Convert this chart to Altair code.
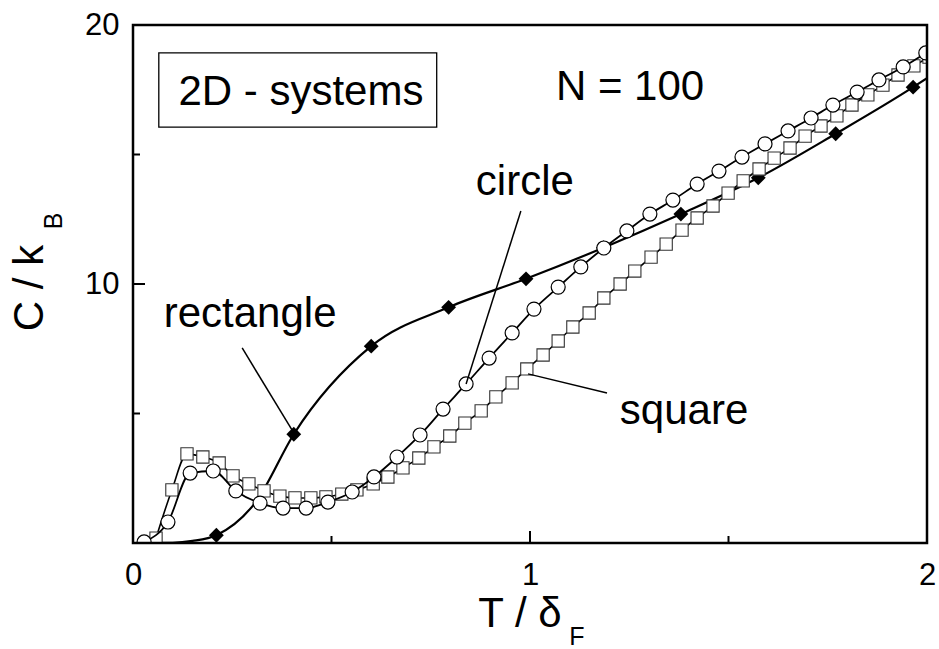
import altair as alt
import pandas as pd

FONT = "Liberation Sans"

# --- heat capacity data, N = 100, 2D systems ---
# rectangle (filled diamonds)
rect_T = [0.21, 0.405, 0.60, 0.795, 0.99, 1.185, 1.38, 1.575, 1.77, 1.965]
rect_C = [0.3, 4.2, 7.6, 9.1, 10.2, 11.4, 12.7, 14.1, 15.8, 17.6]
# smooth curve drawn through the rectangle points
rect_curve_T = [0.0, 0.10, 0.15, 0.21, 0.31, 0.405, 0.60, 0.795, 0.99,
                1.185, 1.38, 1.575, 1.77, 1.965, 2.0]
rect_curve_C = [0.0, 0.01, 0.08, 0.3, 1.6, 4.2, 7.6, 9.1, 10.2,
                11.4, 12.7, 14.1, 15.8, 17.6, 17.95]

# circle (open circles)
circ_T = [0.028, 0.088, 0.144, 0.202, 0.259, 0.320, 0.378, 0.436, 0.491, 0.552,
          0.607, 0.665, 0.723, 0.781, 0.839, 0.897, 0.955, 1.010, 1.071, 1.128,
          1.186, 1.244, 1.302, 1.360, 1.421, 1.476, 1.534, 1.592, 1.650, 1.708,
          1.763, 1.824, 1.879, 1.940, 1.997]
circ_C = [0.04, 0.81, 2.70, 2.78, 2.01, 1.54, 1.35, 1.35, 1.58, 1.97,
          2.55, 3.32, 4.17, 5.17, 6.14, 7.14, 8.11, 9.03, 9.88, 10.66,
          11.39, 12.05, 12.70, 13.24, 13.86, 14.36, 14.90, 15.41, 15.91, 16.41,
          16.91, 17.41, 17.88, 18.38, 18.92]

# square (open squares)
sq_T = [0.058, 0.098, 0.136, 0.176, 0.217, 0.252, 0.292, 0.330, 0.370, 0.408,
        0.448, 0.486, 0.526, 0.564, 0.605, 0.642, 0.680, 0.720, 0.758, 0.798,
        0.836, 0.877, 0.914, 0.955, 0.992, 1.033, 1.071, 1.108, 1.149, 1.186,
        1.227, 1.264, 1.305, 1.343, 1.383, 1.421, 1.461, 1.499, 1.537, 1.577,
        1.615, 1.655, 1.693, 1.733, 1.773, 1.811, 1.851, 1.889, 1.927, 1.967,
        2.005]
sq_C = [0.19, 2.05, 3.44, 3.32, 3.09, 2.59, 2.28, 2.01, 1.81, 1.74,
        1.74, 1.78, 1.89, 2.05, 2.28, 2.55, 2.90, 3.28, 3.71, 4.13,
        4.63, 5.10, 5.64, 6.18, 6.72, 7.26, 7.80, 8.34, 8.88, 9.46,
        10.00, 10.50, 11.04, 11.54, 12.08, 12.55, 13.01, 13.51, 13.98, 14.44,
        14.86, 15.25, 15.71, 16.10, 16.49, 16.91, 17.30, 17.68, 18.07, 18.42,
        18.76]

# axis ticks (drawn inside the frame) and tick labels
x_major = [0, 1, 2]
x_minor = [0.5, 1.5]
y_major = [0, 10, 20]
y_minor = [5, 15]
x_labels = [0, 1, 2]
y_labels = [10, 20]

# in-plot labels and leader lines
label_text = ["rectangle", "circle", "square", "N = 100", "2D - systems"]
label_T = [0.295, 0.987, 1.388, 1.252, 0.423]
label_C = [8.34, 13.44, 4.59, 17.10, 16.91]

lead_T = [0.275, 0.977, 0.995]
lead_C = [7.53, 12.82, 6.53]
lead_T2 = [0.405, 0.839, 1.194]
lead_C2 = [4.25, 6.14, 5.79]

W, H = 794, 518
X_MAX, Y_MAX = 2.0, 20.0
MAJOR_PX, MINOR_PX = 12, 7

xs = alt.Scale(domain=[0, X_MAX], nice=False, zero=False)
ys = alt.Scale(domain=[0, Y_MAX], nice=False, zero=False)

x_axis = alt.Axis(values=x_labels, ticks=False, domain=False, grid=False,
                  labelFontSize=31, labelPadding=17, labelFont=FONT,
                  labelColor="black", labelFlush=False, labelOverlap=False,
                  labelExpr="datum.value", title=None)
y_axis = alt.Axis(values=y_labels, ticks=False, domain=False, grid=False,
                  labelFontSize=31, labelPadding=14, labelFont=FONT,
                  labelColor="black", labelFlush=False, labelOverlap=False,
                  labelExpr="datum.value", title=None)

X = alt.X("T:Q", scale=xs, axis=x_axis)
Y = alt.Y("C:Q", scale=ys, axis=y_axis)

rect_df = pd.DataFrame({"T": rect_T, "C": rect_C})
rect_curve_df = pd.DataFrame({"T": rect_curve_T, "C": rect_curve_C})
circ_df = pd.DataFrame({"T": circ_T, "C": circ_C})
sq_df = pd.DataFrame({"T": sq_T, "C": sq_C})

# inside ticks, lengths converted from pixels to data units
dy_major = MAJOR_PX * Y_MAX / H
dy_minor = MINOR_PX * Y_MAX / H
dx_major = MAJOR_PX * X_MAX / W
dx_minor = MINOR_PX * X_MAX / W

xt_df = pd.DataFrame({
    "T": x_major + x_minor,
    "C": [0.0] * (len(x_major) + len(x_minor)),
    "C2": [dy_major] * len(x_major) + [dy_minor] * len(x_minor),
})
yt_df = pd.DataFrame({
    "C": y_major + y_minor,
    "T": [0.0] * (len(y_major) + len(y_minor)),
    "T2": [dx_major] * len(y_major) + [dx_minor] * len(y_minor),
})

xticks = alt.Chart(xt_df).mark_rule(color="black", strokeWidth=2).encode(
    x=X, y=Y, y2="C2:Q")
yticks = alt.Chart(yt_df).mark_rule(color="black", strokeWidth=2).encode(
    x=X, x2="T2:Q", y=Y)

# plot frame
frame = alt.Chart(pd.DataFrame({"T": [0.0], "T2": [X_MAX],
                                "C": [0.0], "C2": [Y_MAX]})).mark_rect(
    fill="transparent", stroke="black", strokeWidth=2.5).encode(
    x=X, x2="T2:Q", y=Y, y2="C2:Q")

# framed title box
box = alt.Chart(pd.DataFrame({"T": [0.065], "T2": [0.765],
                              "C": [18.92], "C2": [16.06]})).mark_rect(
    fill="white", stroke="black", strokeWidth=1.3).encode(
    x=X, x2="T2:Q", y=Y, y2="C2:Q")

rect_line = alt.Chart(rect_curve_df).mark_line(
    color="black", strokeWidth=2.2, interpolate="monotone", clip=True).encode(
    x=X, y=Y, order="T:Q")
rect_pts = alt.Chart(rect_df).mark_point(
    shape="diamond", filled=True, color="black", size=220, opacity=1,
    clip=True).encode(x=X, y=Y)

sq_line = alt.Chart(sq_df).mark_line(
    color="black", strokeWidth=1.6, interpolate="monotone", clip=True).encode(
    x=X, y=Y, order="T:Q")
sq_pts = alt.Chart(sq_df).mark_point(
    shape="square", filled=True, fill="white", stroke="#333333",
    strokeWidth=1.1, size=150, opacity=1, clip=True).encode(x=X, y=Y)

circ_line = alt.Chart(circ_df).mark_line(
    color="black", strokeWidth=1.8, interpolate="monotone", clip=True).encode(
    x=X, y=Y, order="T:Q")
circ_pts = alt.Chart(circ_df).mark_point(
    shape="circle", filled=True, fill="white", stroke="black",
    strokeWidth=1.2, size=196, opacity=1, clip=True).encode(x=X, y=Y)

leaders = alt.Chart(pd.DataFrame({"T": lead_T, "C": lead_C,
                                  "T2": lead_T2, "C2": lead_C2})).mark_rule(
    color="black", strokeWidth=1.5).encode(
    x=X, y=Y, x2="T2:Q", y2="C2:Q")

labels = alt.Chart(pd.DataFrame({"T": label_T, "C": label_C,
                                 "txt": label_text})).mark_text(
    font=FONT, fontSize=42, color="black", align="center",
    baseline="alphabetic").encode(x=X, y=Y, text="txt:N")

# axis titles with subscripts
x_title = alt.Chart(pd.DataFrame({"t": ["T / \u03b4"]})).mark_text(
    font=FONT, fontSize=42, color="black", align="center",
    baseline="alphabetic").encode(
    x=alt.value(387), y=alt.value(602), text="t:N")
x_sub = alt.Chart(pd.DataFrame({"t": ["F"]})).mark_text(
    font=FONT, fontSize=25, color="black", align="center",
    baseline="alphabetic").encode(
    x=alt.value(444), y=alt.value(620), text="t:N")
y_title = alt.Chart(pd.DataFrame({"t": ["C / k"]})).mark_text(
    font=FONT, fontSize=42, color="black", align="center",
    baseline="alphabetic", angle=270).encode(
    x=alt.value(-90), y=alt.value(263), text="t:N")
y_sub = alt.Chart(pd.DataFrame({"t": ["B"]})).mark_text(
    font=FONT, fontSize=25, color="black", align="center",
    baseline="alphabetic", angle=270).encode(
    x=alt.value(-71), y=alt.value(196), text="t:N")

chart = alt.layer(
    box, rect_line, rect_pts, sq_line, sq_pts, circ_line, circ_pts,
    leaders, labels, xticks, yticks, frame,
    x_title, x_sub, y_title, y_sub,
).properties(
    width=W, height=H,
    autosize=alt.AutoSizeParams(type="none"),
    padding={"left": 133, "top": 25, "right": 12, "bottom": 106},
).configure(
    background="white",
    view=alt.ViewConfig(strokeWidth=0),
)

chart.save("out.html", embed_options={"renderer": "svg", "actions": False})
